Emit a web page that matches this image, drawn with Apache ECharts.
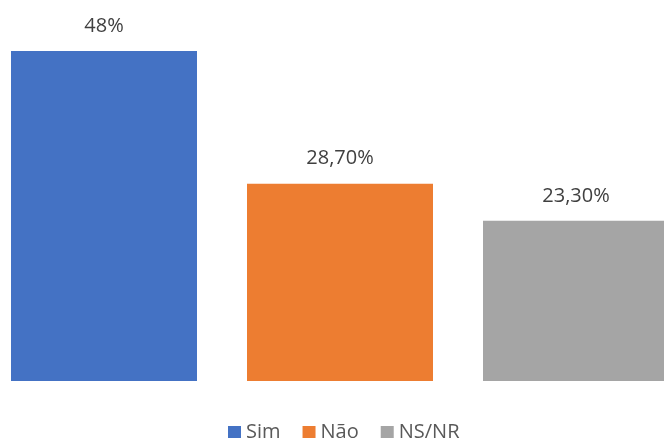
<!DOCTYPE html>
<html>
<head>
<meta charset="utf-8">
<script src="https://cdn.jsdelivr.net/npm/echarts@6/dist/echarts.min.js"></script>
<style>
  html, body { margin: 0; padding: 0; background: #fff; }
  #chart { width: 664px; height: 441px; }
</style>
</head>
<body>
<div id="chart"></div>
<script>
// Survey answers (percent)
const categories = ['Sim', 'Não', 'NS/NR'];
const values = [48, 28.7, 23.3];
const valueLabels = ['48%', '28,70%', '23,30%'];
const colors = ['#4472C4', '#ED7D31', '#A5A5A5'];

const font = '"Open Sans", "Noto Sans", sans-serif';

// One series per answer so each gets its own legend entry; the bars sit at
// positions 0, 1, 2 of a hidden numeric x axis, and barGap -100% keeps
// each one centred on its own position.
const series = categories.map((name, i) => ({
  name: name,
  type: 'bar',
  barWidth: 186,
  barGap: '-100%',
  itemStyle: { color: colors[i] },
  label: {
    show: true,
    position: 'top',
    distance: 15,
    color: '#404040',
    fontFamily: font,
    fontSize: 20,
    formatter: () => valueLabels[i]
  },
  data: [[i, values[i]]]
}));

const chart = echarts.init(document.getElementById('chart'));
chart.setOption({
  animation: false,
  legend: {
    top: 417,
    left: 223,
    icon: 'rect',
    itemWidth: 13,
    itemHeight: 12,
    itemGap: 22,
    textStyle: { color: '#595959', fontFamily: font, fontSize: 20 },
    data: categories
  },
  grid: { left: 0, right: 0, top: 37.25, bottom: 60 },
  xAxis: {
    type: 'value',
    min: -0.4407,
    max: 2.3729,
    show: false
  },
  yAxis: {
    type: 'value',
    min: 0,
    max: 50,
    show: false
  },
  series: series
});
</script>
</body>
</html>
